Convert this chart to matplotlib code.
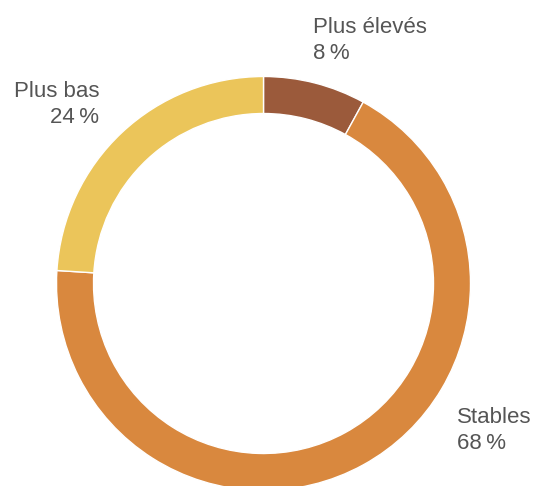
import matplotlib.pyplot as plt

labels = ["Plus élevés", "Stables", "Plus bas"]
values = [8, 68, 24]
colors = ["#9b5a3b", "#d9883e", "#ebc55a"]

fig = plt.figure(figsize=(5.34, 4.86), dpi=100)
ax = fig.add_axes([0, 0, 1, 1])

ax.pie(values, colors=colors, startangle=90, counterclock=False,
       center=(263.5, 202.5), radius=207, frame=True,
       wedgeprops=dict(width=37, edgecolor="white", linewidth=1))
ax.set_xlim(0, 534)
ax.set_ylim(0, 486)
ax.set_aspect("equal")
ax.axis("off")

txt = dict(fontsize=16, color="#555555", family="Liberation Sans", va="baseline")
pct = lambda v: "{}\u202f%".format(v)

# Plus élevés
ax.text(313, 486 - 33, labels[0], ha="left", **txt)
ax.text(313, 486 - 59, pct(values[0]), ha="left", **txt)
# Stables
ax.text(457, 486 - 423, labels[1], ha="left", **txt)
ax.text(457, 486 - 449, pct(values[1]), ha="left", **txt)
# Plus bas
ax.text(99, 486 - 97, labels[2], ha="right", **txt)
ax.text(99, 486 - 123, pct(values[2]), ha="right", **txt)

fig.savefig("out.png", dpi=100)
